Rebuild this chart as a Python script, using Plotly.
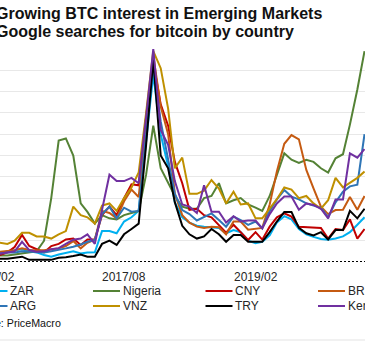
import pandas as pd
import plotly.graph_objects as go

# Monthly Google search interest for "bitcoin" (0-100), Feb 2016 - May 2020
months = pd.date_range("2016-02-01", "2020-05-01", freq="MS")

ZAR = [4, 4, 5, 5.5, 6, 5, 4.5, 3.3, 2.5, 3.5, 4.3, 5, 4, 4.5, 4.6, 14.5, 14.5, 13.5, 19, 21,
       24, 55, 88, 60, 45, 28, 21, 18.5, 17, 16.5, 16.3, 16, 13.5, 15, 14, 10, 8.8, 9.5, 12.5, 18.5,
       21.5, 20, 15.5, 13, 11.8, 10.8, 10.4, 11, 12, 14, 17.5, 21]
Nigeria = [3, 3, 3, 3.5, 4, 4.5, 5, 10, 30, 57, 58, 50, 27.5, 23.5, 18, 22, 20.5, 20, 22, 23,
           24, 41, 64, 44, 37, 31, 26, 25, 25, 30, 31, 37, 27.5, 29, 30, 27, 25.5, 24, 31, 41,
           51, 48, 46.5, 48, 47, 44, 42, 48.7, 50.6, 64.5, 81, 99]
CNY = [3, 3.3, 4.5, 7, 12.7, 7.5, 6, 4.5, 7.5, 8.5, 10.6, 11, 8, 10.6, 10.6, 22, 26, 22, 30, 36.5,
       36, 68, 94, 74, 64, 47, 37, 24.5, 25, 22, 21, 17.5, 13.8, 17.5, 14, 10.3, 14, 10.5, 16.6, 21,
       22.8, 21.3, 16.5, 16.3, 16.3, 16, 11, 15.5, 15, 20, 11, 15.5]
BRL = [4.5, 4.8, 5, 5.5, 6.4, 5.6, 5.5, 5.5, 6, 6.4, 7.5, 9.8, 6.4, 9, 10.5, 24, 23, 20.5, 28.5, 34,
       30.5, 65, 97, 73, 60, 32, 22, 18.5, 16.6, 16, 16.6, 16.3, 13, 19, 19, 15.2, 15.5, 16, 27, 42.5,
       55.5, 59.6, 57.6, 43.2, 34.6, 26, 22.5, 24.4, 24.5, 30.5, 24.5, 31]
ARG = [4, 4, 4.5, 4.5, 5, 4.8, 4.5, 4.5, 5, 5.6, 6.4, 7.2, 8.2, 9.5, 10.3, 22.5, 26, 20.5, 25.5, 23.6,
       24, 60, 92, 66, 48, 32, 24.4, 22.5, 19.5, 21, 22.8, 19.7, 16.6, 21.3, 19.7, 17.4, 19, 15.8, 24, 29.4,
       33.8, 30.7, 29.4, 27.5, 26.5, 25.5, 21, 28, 33, 35.5, 36.3, 60]
VNZ = [9.5, 9, 8.5, 10, 13.7, 13.7, 12, 12, 11, 13, 14.5, 26, 22, 21, 18, 26.5, 27.5, 24, 30, 35,
       42, 70, 99, 91, 72, 44, 49, 32, 32, 33.5, 38.5, 34.5, 27.5, 33, 27, 27.5, 20.5, 20.5, 25, 29.5,
       35, 34, 30, 31, 27.5, 25, 29, 39.5, 35, 37, 39.5, 42.5]
TRY = [1, 1.5, 1.5, 2, 2.5, 1, 1, 1, 1, 2, 2.2, 2.8, 3.5, 2.5, 2.5, 8.5, 10, 8, 13, 15.5,
       18, 55, 95, 50, 44, 28, 17, 13, 11, 12, 15.5, 13, 9.5, 12.7, 12.7, 9.5, 9.5, 9.5, 14, 19,
       23.5, 23.5, 16, 13.5, 12.5, 14, 10.6, 15, 15, 24, 20.5, 25]
Kenya = [4, 4, 4.5, 5, 9.5, 5.6, 4.8, 5, 6, 6.5, 8.5, 10.5, 11, 13, 8.5, 25, 41, 38, 38, 39.5,
         37, 68, 100, 62, 55, 38, 27, 26, 23, 36, 23.6, 23.6, 18.5, 21.5, 19, 19.5, 19.5, 15.8, 22.5, 27.5,
         30.7, 30.7, 24.5, 27.5, 26.8, 25, 20.5, 29.4, 29.4, 51, 49, 53]

series_names = ["ZAR", "Nigeria", "CNY", "BRL", "ARG", "VNZ", "TRY", "Kenya"]
series_values = [ZAR, Nigeria, CNY, BRL, ARG, VNZ, TRY, Kenya]
series_colors = ["#00B0F0", "#548235", "#C00000", "#C55A11",
                 "#2E75B6", "#BF9000", "#000000", "#7030A0"]

tick_dates = ["2016-02-01", "2017-08-01", "2019-02-01"]
tick_labels = ["2016/02", "2017/08", "2019/02"]

title_lines = ["Growing BTC interest in Emerging Markets",
               "Google searches for bitcoin by country"]
source_text = "Source: PriceMacro"

# page geometry (pixels)
W, H = 365, 341
TOP, BOTTOM = 49, 262
x_start, x_end = pd.Timestamp("2016-03-01"), pd.Timestamp("2020-05-03")

FONT = "Arial, Liberation Sans, sans-serif"
TEXT = "#262626"


def px(p):
    return p / W


def py(p):
    return (BOTTOM - p) / (BOTTOM - TOP)


def date_frac(d):
    return (pd.Timestamp(d) - x_start) / (x_end - x_start)


fig = go.Figure()
for name, vals, col in zip(series_names, series_values, series_colors):
    fig.add_trace(go.Scatter(x=months, y=vals, name=name, mode="lines",
                             line=dict(color=col, width=2), showlegend=False,
                             hoverinfo="x+y+name"))

shapes = [
    # dotted zero line along the bottom of the plot
    dict(type="line", xref="paper", yref="y", x0=0, x1=1, y0=0, y1=0,
         line=dict(color="#000000", width=2, dash="2px,2px"), layer="above"),
    # faint frame edge at the bottom of the chart
    dict(type="line", xref="paper", yref="paper", x0=0, x1=1, y0=py(340), y1=py(340),
         line=dict(color="#E3E3E3", width=1)),
]

annotations = []
# title lines
for i, line in enumerate(title_lines):
    annotations.append(dict(text=line, xref="paper", yref="paper", x=px(-6), y=py(13.5 + 18 * i),
                            xanchor="left", yanchor="middle", showarrow=False,
                            font=dict(family=FONT, size=16, color="#111111", weight="bold")))

# x tick labels (the first one sits left of the visible range, partly cut off)
for d, lab in zip(tick_dates, tick_labels):
    annotations.append(dict(text=lab, xref="paper", yref="paper", x=date_frac(d), y=py(277),
                            xanchor="center", yanchor="middle", showarrow=False,
                            font=dict(family=FONT, size=12, color=TEXT)))

# legend: 4 columns x 2 rows
col_step = 112.5
for i, (name, col) in enumerate(zip(series_names, series_colors)):
    c, r = i % 4, i // 4
    x0 = -19.5 + col_step * c
    x1 = x0 + 27
    yy = 291 + 15 * r
    shapes.append(dict(type="line", xref="paper", yref="paper",
                       x0=px(x0), x1=px(x1), y0=py(yy), y1=py(yy),
                       line=dict(color=col, width=2)))
    annotations.append(dict(text=name, xref="paper", yref="paper", x=px(x1 + 0.5), y=py(yy),
                            xanchor="left", yanchor="middle", showarrow=False,
                            font=dict(family=FONT, size=12, color=TEXT)))

annotations.append(dict(text=source_text, xref="paper", yref="paper", x=px(-35), y=py(323),
                        xanchor="left", yanchor="middle", showarrow=False,
                        font=dict(family=FONT, size=10.7, color="#111111")))

fig.update_layout(
    width=W, height=H,
    margin=dict(l=0, r=0, t=TOP, b=H - BOTTOM, pad=0),
    paper_bgcolor="white", plot_bgcolor="white",
    showlegend=False,
    shapes=shapes, annotations=annotations,
    xaxis=dict(type="date", range=[x_start, x_end], showgrid=False, zeroline=False,
               showline=False, ticks="", showticklabels=False, fixedrange=True),
    yaxis=dict(range=[0, 100], dtick=10, showgrid=True, gridcolor="#E8E8E8", gridwidth=1,
               zeroline=False, showline=False, showticklabels=False, ticks="", fixedrange=True),
)

fig.write_html("out.html")
